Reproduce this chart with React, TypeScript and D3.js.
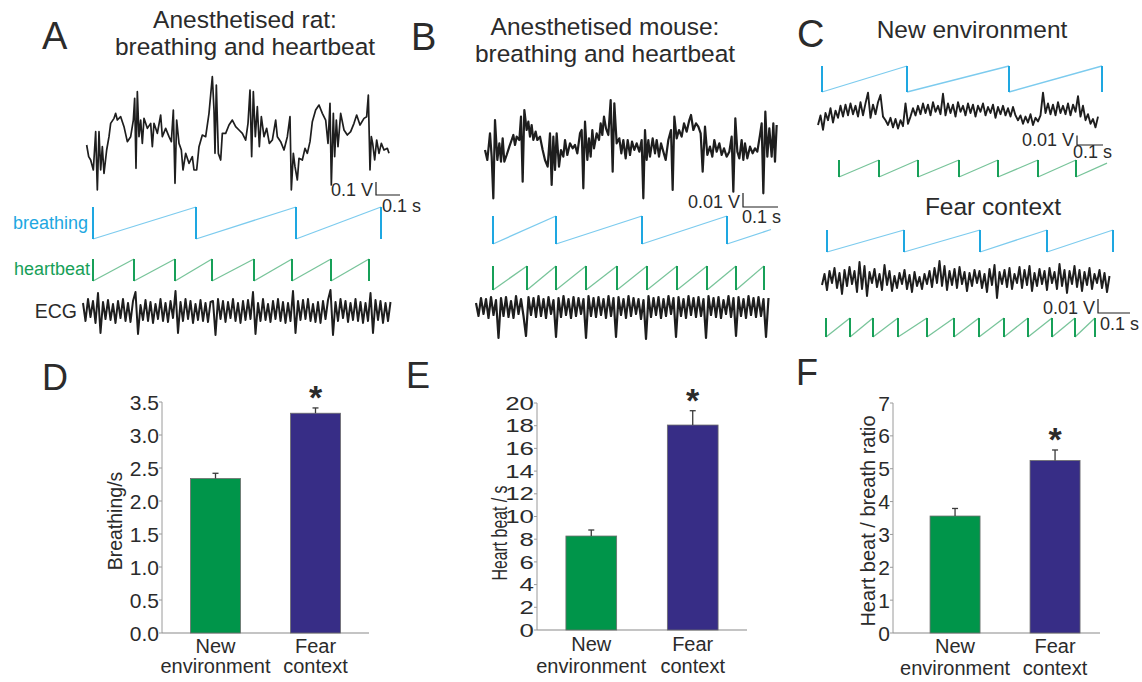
import React from "react";
import * as d3 from "d3";

const FONT = "'Liberation Sans', Arial, Helvetica, sans-serif";
const INK = "#1e1e1e";
const TEXT = "#2b2b2b";
const CYAN = "#1ea7e1";
const CYAN_LIGHT = "#7ccbee";
const GREEN = "#17a058";
const GREEN_LIGHT = "#78c49a";
const BAR_GREEN = "#00954a";
const BAR_BLUE = "#372d86";

type Pt = [number, number];

// ---------- A: anesthetised rat (time in samples, 720 samples/s) ----------
const ratTrace: Pt[] = [
  [8, -25], [14, -60], [20, -70], [28, -100], [35, 15], [40, -160], [45, 15], [50, -100], [55, -30], [60, -110],
  [68, -40], [75, 0], [80, 40], [90, 55], [95, 70], [100, 50], [110, 60], [120, 30], [130, -15], [140, 0],
  [148, 50], [152, 115], [156, -95], [160, 135], [165, 0], [170, 50], [175, -20], [180, 55], [190, 25], [200, 40],
  [205, -30], [210, 40], [220, 10], [230, 65], [235, 0], [245, 25], [255, 0], [262, -15], [268, 80], [273, -140],
  [278, 50], [285, -20], [292, -40], [297, -100], [305, -50], [315, -80], [325, -60], [330, -100], [338, -100], [345, -30],
  [355, 5], [365, 0], [375, 70], [385, 180], [390, 80], [393, -50], [397, 155], [403, -50], [410, -70], [415, 10],
  [425, 10], [435, 35], [445, 50], [455, 30], [465, 20], [475, 10], [485, -10], [492, 40], [498, 140], [503, -60],
  [508, 135], [514, 0], [520, 90], [526, -30], [532, 60], [540, 0], [548, 25], [556, -20], [565, -10], [575, 50],
  [580, 0], [590, -15], [600, -40], [610, 0], [618, 60], [622, -160], [628, -50], [633, -90], [640, -130], [645, -65],
  [655, -70], [663, -35], [670, -50], [678, -15], [685, 45], [695, 80], [705, 95], [715, 70], [725, 50], [732, -20],
  [738, 100], [742, -145], [748, 70], [752, -60], [757, 50], [762, -30], [770, 70], [780, 20], [790, 5], [800, 15],
  [810, 40], [818, 65], [828, 35], [840, 55], [848, 60], [853, 125], [858, -100], [862, 0], [866, -20], [872, -70],
  [878, -10], [885, -50], [892, -20], [900, -40], [910, -35], [915, -50],
];
const ratBreaths = [27, 336, 636, 891];
const ratBeats = [27, 150, 273, 384, 510, 624, 741, 855];
const ratEcgStart = -3;
const ratEcg = [
  8, -10, 12, -6, 10, -12, 18, -22, 9, -8,
  11, -9, 7, -12, 10, -7, 12, -10, 8, -11,
  10, 19, -23, 6, -9, 11, -10, 9, -12, 7,
  -8, 12, -10, 8, -11, 10, -7, 20, -22, 9,
  -10, 12, -8, 10, -12, 7, -9, 11, -10, 8,
  -11, 9, 10, -24, 12, -8, 10, -11, 9, -7,
  12, -10, 8, -12, 10, -9, 11, -8, 19, -23,
  8, -10, 12, -9, 7, -11, 10, -8, 12, -10,
  9, -12, 8, -10, 20, -22, 10, -9, 11, -8,
  12, -10, 7, -11, 9, -12, 10, -8, 11, 21,
  -24, 9, -10, 12, -7, 10, -11, 8, -9, 12,
  -10, 9, -12, 8, -10, 18, -22, 11, -9, 10,
  -12, 8, -10, 9,
];

// ---------- B: anesthetised mouse ----------
const mouseTrace: Pt[] = [
  [15, 0], [22, -30], [30, 50], [35, -20], [40, -145], [45, 90], [52, -30], [58, 20], [63, -35], [68, 35],
  [73, -35], [80, -15], [88, 10], [95, 30], [100, 45], [105, 15], [110, 40], [118, 30], [123, 100], [128, -95],
  [133, 120], [140, 60], [145, 85], [150, 40], [155, 75], [160, 30], [167, 55], [172, 30], [180, 40], [188, 0],
  [195, -30], [203, -50], [210, 50], [215, -105], [220, 40], [225, -60], [230, 50], [237, -50], [243, 0], [250, -20],
  [255, 30], [262, -15], [270, 20], [278, 5], [285, 15], [292, -10], [300, 50], [305, 60], [310, -115], [315, 85],
  [322, -30], [327, 35], [332, -20], [337, 60], [342, 5], [350, 50], [357, 30], [362, 80], [367, 45], [372, 100],
  [378, 65], [385, 45], [392, 150], [398, -65], [403, 140], [410, 20], [418, 35], [424, -10], [430, 30], [437, -25],
  [443, 30], [450, -15], [456, 25], [463, 0], [470, 20], [478, -5], [485, 30], [490, -145], [495, 60], [500, -30],
  [505, 30], [510, -20], [518, 35], [525, -10], [530, 30], [537, -20], [543, 20], [550, -5], [557, -30], [565, 30],
  [573, 60], [578, -120], [583, 100], [590, 35], [597, 60], [605, 40], [612, 80], [620, 55], [628, 90], [633, 105],
  [640, 60], [648, 80], [655, 70], [662, 50], [668, -65], [675, 70], [682, -15], [690, 10], [697, -20], [703, 30],
  [710, -5], [718, 20], [725, -15], [732, 5], [740, -20], [748, -5], [755, 40], [760, -125], [766, 95], [772, -5],
  [778, -25], [785, 30], [790, -30], [795, 20], [802, -25], [810, 10], [818, -10], [825, 5], [832, -5], [840, 45],
  [845, 80], [850, -130], [856, 115], [862, -20], [868, 65], [875, -20], [880, 80], [885, -35], [890, 75],
];
const mouseBreaths = [39, 228, 486, 741];
const mouseBreathEnd = 873;
const mouseBeats = [39, 141, 228, 318, 411, 501, 591, 681, 768, 852];
const mouseEcgStart = -12;
const mouseEcg = [
  5, -8, 10, -6, 9, -10, 11, -7, 8, -30,
  10, -8, 11, -9, 7, -10, 12, -6, 9, -8,
  -28, 11, -7, 10, -9, 12, -8, 9, -10, 11,
  -6, 8, -29, 10, -9, 12, -7, 9, -10, 11,
  -8, 10, -6, 9, -30, 12, -8, 10, -9, 11,
  -7, 9, -10, 12, -8, 10, -29, 11, -7, 9,
  -10, 12, -8, 10, -6, 9, -11, 8, -31, 12,
  -9, 10, -7, 11, -10, 9, -8, 12, -6, 10,
  -29, 11, -8, 9, -10, 12, -7, 10, -9, 11,
  -8, 9, -30, 12, -7, 10, -9, 11, -10, 8,
  -6, 12, -9, 10, -28, 11, -8, 9, -10, 12,
  -7, 10, -9, 11, -8, 9, -29, 10,
];

// ---------- C: freely moving, new environment vs fear context ----------
const newEnvStart = 84;
const newEnvTrace = [
  -10, -2, -14, 0, -6, 4, -8, 2, -4, 6,
  -3, 7, -2, 8, -1, 6, -3, 9, -2, 8,
  17, -4, 7, -1, 9, 15, -3, -6, -10, -4,
  -12, -5, -13, -6, -11, 8, -9, -3, 4, -2,
  6, -1, 8, 0, 7, -2, 9, 1, 6, -1,
  16, -2, 8, 0, 7, -3, 9, 1, 6, -2,
  8, 0, 7, -3, 6, 1, 8, -2, 5, 0,
  7, -4, 5, -1, 6, -2, 4, -3, 5, -2,
  -6, -2, -9, -3, -8, -1, -10, -4, -7, -2,
  17, 0, 8, -1, 7, -2, 9, 0, 6, -1,
  8, -2, 7, 1, 14, -3, 6, -6, -1, -9,
  -5, -12, -3,
];
const newEnvBreaths = [96, 351, 657, 936];
const newEnvBeats = [147, 267, 384, 507, 624, 744, 858];
const newEnvBeatEnd = 951;

const fearStart = 96;
const fearTrace = [
  -5, 6, -10, 9, -3, 12, -8, 7, -14, 10,
  -6, 13, -4, 9, -12, 18, -9, 14, -16, 8,
  -3, 11, -7, 6, -10, 15, -5, 9, -11, 4,
  -8, 7, -4, 10, -9, 5, -12, 8, -6, 3,
  -9, 6, -4, 9, -7, 12, -3, 19, -6, 14,
  -10, 9, -5, 11, -8, 13, -4, 8, -11, 7,
  -6, 10, -3, 9, -8, 6, -12, 11, -5, 15,
  -18, 8, -4, 10, -7, 12, -9, 6, -3, 13,
  -8, 10, -5, 14, -11, 7, -6, 11, -4, 9,
  -10, 12, -3, 8, -9, 16, -6, 10, -13, 9,
  -4, 14, -7, 10, -11, 8, -5, 12, -9, 6,
  -3, 10, -8, 7, -12, 4,
];
const fearBreaths = [111, 342, 570, 771, 969];
const fearBeats = [108, 180, 249, 324, 411, 492, 567, 642, 714, 786, 855, 915];

const SAMPLE_STEP = 7.5;

// ---------- D-F: bar charts ----------
const groups = ["New environment", "Fear context"];
const breathMean = [2.34, 3.33];
const breathSem = [0.08, 0.08];
const heartMean = [8.28, 18.06];
const heartSem = [0.53, 1.26];
const ratioMean = [3.56, 5.25];
const ratioSem = [0.23, 0.32];

const uniform = (start: number, values: number[]): Pt[] =>
  values.map((v, i) => [start + i * SAMPLE_STEP, v]);

function Trace({ pts, x, y, w = 1.4 }: any) {
  const line = d3.line<Pt>().x((d) => x(d[0])).y((d) => y(d[1]));
  return <path d={line(pts) || ""} fill="none" stroke={INK} strokeWidth={w} strokeLinejoin="round" />;
}

function Sawtooth({ resets, end, x, lo, hi, color, light }: any) {
  const phase = d3.scaleLinear().domain([0, 1]).range([lo, hi]);
  const last = resets[resets.length - 1];
  const ramps: Pt[][] = d3.pairs(resets).map(([a, b]: any) => [[a, 0], [b, 1]] as Pt[]);
  if (end > last) {
    const prev = resets[resets.length - 2];
    ramps.push([[last, 0], [end, (end - last) / (last - prev)]]);
  }
  const line = d3.line<Pt>().x((d) => x(d[0])).y((d) => phase(d[1]));
  return (
    <g fill="none">
      {ramps.map((r, i) => (
        <path key={"r" + i} d={line(r) || ""} stroke={light} strokeWidth={1.3} />
      ))}
      {resets.map((t: number, i: number) => (
        <line key={"v" + i} x1={x(t)} x2={x(t)} y1={phase(1)} y2={phase(0)} stroke={color} strokeWidth={2} />
      ))}
    </g>
  );
}

function ScaleBar({ cx, cy, x, y, vUnits, sUnits, vText, sText, sDx, sDy }: any) {
  const h = y(0) - y(vUnits);
  const w = x(sUnits) - x(0);
  return (
    <g fontFamily={FONT} fontSize={18} fill={TEXT}>
      <path d={`M${cx},${cy - h}V${cy}H${cx + w}`} fill="none" stroke={INK} strokeWidth={1.2} />
      <text x={cx - 3} y={cy + 1} textAnchor="end">{vText}</text>
      <text x={cx + sDx} y={cy + sDy}>{sText}</text>
    </g>
  );
}

function BarPanel(p: any) {
  const x = d3.scaleBand().domain(groups).range([p.x0, p.x1]).paddingInner(0.5).paddingOuter(0.285).align(p.align ?? 0.5);
  const y = d3.scaleLinear().domain([0, p.max]).range([p.yBase, p.yTop]);
  const ticks = d3.range(0, p.max + p.step / 2, p.step);
  const fmt = d3.format(p.fmt);
  const stretch = p.tickStretch ?? 1;
  return (
    <g fontFamily={FONT} fill={TEXT}>
      <text x={p.letterX} y={p.letterY} fontSize={36}>{p.letter}</text>
      <line x1={p.x0} x2={p.x0} y1={y(0)} y2={y(p.max)} stroke="#9a9a9a" strokeWidth={1} />
      <line x1={p.x0} x2={p.x1} y1={y(0)} y2={y(0)} stroke="#8a8a8a" strokeWidth={1.2} />
      {ticks.map((t: number) => (
        <g key={t}>
          <line x1={p.x0 - 3} x2={p.x0} y1={y(t)} y2={y(t)} stroke="#9a9a9a" />
          <text
            transform={`translate(${p.x0 - 3},${y(t)}) scale(${stretch},1)`}
            dy="0.36em"
            textAnchor="end"
            fontSize={p.tickSize}
          >
            {fmt(t)}
          </text>
        </g>
      ))}
      {groups.map((g, i) => {
        const bx = x(g) as number;
        const bw = x.bandwidth();
        const cx = bx + bw / 2;
        const top = y(p.means[i] + p.sems[i]);
        const [l1, ...rest] = g.split(" ");
        return (
          <g key={g}>
            <rect x={bx} y={y(p.means[i])} width={bw} height={y(0) - y(p.means[i])}
              fill={i === 0 ? BAR_GREEN : BAR_BLUE} stroke="#6d6d6d" strokeWidth={0.8} />
            <line x1={cx} x2={cx} y1={y(p.means[i])} y2={top} stroke="#3a3a3a" strokeWidth={1.3} />
            <line x1={cx - 3} x2={cx + 3} y1={top} y2={top} stroke="#3a3a3a" strokeWidth={1.3} />
            <text x={cx} y={p.catY1} textAnchor="middle" fontSize={20}>{l1}</text>
            <text x={cx} y={p.catY2} textAnchor="middle" fontSize={20}>{rest.join(" ")}</text>
          </g>
        );
      })}
      <text x={x(groups[1])! + x.bandwidth() / 2} y={y(p.means[1] + p.sems[1]) + 1} textAnchor="middle"
        fontSize={34} fontWeight="bold">*</text>
      <text transform={`translate(${p.labelX},${p.labelY}) rotate(-90) scale(${p.labelSquash ?? 1},1)`}
        textAnchor="middle" fontSize={p.labelSize}>{p.label}</text>
    </g>
  );
}

export default function App() {
  // panel A scales
  const ax = d3.scaleLinear().domain([0, 915]).range([84, 389]);
  const ay = d3.scaleLinear().domain([-175, 180]).range([195, 76.7]);
  const aEcgY = d3.scaleLinear().domain([-30, 30]).range([341, 281]);
  // panel B scales
  const bx = d3.scaleLinear().domain([0, 900]).range([480, 780]);
  const by = d3.scaleLinear().domain([-150, 150]).range([200, 100]);
  const bEcgY = d3.scaleLinear().domain([-31, 31]).range([339, 277]);
  // panel C scales
  const cx = d3.scaleLinear().domain([0, 960]).range([790, 1110]);
  const cNewY = d3.scaleLinear().domain([-15, 15]).range([131, 95]);
  const cFearY = d3.scaleLinear().domain([-25, 25]).range([305, 255]);

  return (
    <svg width={1142} height={682} style={{ position: "absolute", left: 0, top: 0, background: "#fff" }}>
      <rect width={1142} height={682} fill="#fff" />
      <g fontFamily={FONT} fill={TEXT}>
        {/* A */}
        <text x={42} y={49} fontSize={38}>A</text>
        <text x={245} y={28} fontSize={24.5} textAnchor="middle">Anesthetised rat:</text>
        <text x={245} y={55} fontSize={24.5} textAnchor="middle">breathing and heartbeat</text>
        <text x={88} y={229} fontSize={18} textAnchor="end" fill={CYAN}>breathing</text>
        <text x={90} y={275} fontSize={18} textAnchor="end" fill={GREEN}>heartbeat</text>
        <text x={77} y={318} fontSize={19.5} textAnchor="end">ECG</text>
        {/* B */}
        <text x={411} y={50} fontSize={38}>B</text>
        <text x={605} y={35} fontSize={24.5} textAnchor="middle">Anesthetised mouse:</text>
        <text x={605} y={62} fontSize={24.5} textAnchor="middle">breathing and heartbeat</text>
        {/* C */}
        <text x={797} y={47} fontSize={38}>C</text>
        <text x={972} y={38} fontSize={24.5} textAnchor="middle">New environment</text>
        <text x={993} y={215} fontSize={24.5} textAnchor="middle">Fear context</text>
      </g>

      {/* A traces */}
      <Trace pts={ratTrace} x={ax} y={ay} w={1.7} />
      <ScaleBar cx={376} cy={195} x={ax} y={ay} vUnits={39} sUnits={72} vText="0.1 V" sText="0.1 s" sDx={6} sDy={17} />
      <Sawtooth resets={ratBreaths} end={891} x={ax} lo={239} hi={207} color={CYAN} light={CYAN_LIGHT} />
      <Sawtooth resets={ratBeats} end={855} x={ax} lo={281} hi={259} color={GREEN} light={GREEN_LIGHT} />
      <Trace pts={uniform(ratEcgStart, ratEcg)} x={ax} y={aEcgY} w={2} />

      {/* B traces */}
      <Trace pts={mouseTrace} x={bx} y={by} w={2.2} />
      <ScaleBar cx={743} cy={207} x={bx} y={by} vUnits={42} sUnits={105} vText="0.01 V" sText="0.1 s" sDx={-1} sDy={16} />
      <Sawtooth resets={mouseBreaths} end={mouseBreathEnd} x={bx} lo={244} hi={216} color={CYAN} light={CYAN_LIGHT} />
      <Sawtooth resets={mouseBeats} end={852} x={bx} lo={290} hi={266} color={GREEN} light={GREEN_LIGHT} />
      <Trace pts={uniform(mouseEcgStart, mouseEcg)} x={bx} y={bEcgY} w={2.2} />

      {/* C traces */}
      <Sawtooth resets={newEnvBreaths} end={936} x={cx} lo={92} hi={66} color={CYAN} light={CYAN_LIGHT} />
      <Trace pts={uniform(newEnvStart, newEnvTrace)} x={cx} y={cNewY} w={1.9} />
      <ScaleBar cx={1077} cy={145} x={cx} y={cNewY} vUnits={8} sUnits={78} vText="0.01 V" sText="0.1 s" sDx={-4} sDy={13} />
      <Sawtooth resets={newEnvBeats} end={newEnvBeatEnd} x={cx} lo={177} hi={160} color={GREEN} light={GREEN_LIGHT} />

      <Sawtooth resets={fearBreaths} end={969} x={cx} lo={252} hi={230} color={CYAN} light={CYAN_LIGHT} />
      <Trace pts={uniform(fearStart, fearTrace)} x={cx} y={cFearY} w={2} />
      <Sawtooth resets={fearBeats} end={915} x={cx} lo={337} hi={318} color={GREEN} light={GREEN_LIGHT} />
      <ScaleBar cx={1098} cy={313} x={cx} y={cFearY} vUnits={14} sUnits={96} vText="0.01 V" sText="0.1 s" sDx={2} sDy={17} />

      {/* D */}
      <BarPanel letter="D" letterX={42} letterY={390} x0={162} x1={369} yBase={633} yTop={402} max={3.5} step={0.5}
        fmt=".1f" tickSize={21} means={breathMean} sems={breathSem} label="Breathing/s" labelX={122} labelY={521}
        labelSize={19.5} catY1={653} catY2={673} />
      {/* E */}
      <BarPanel letter="E" letterX={406} letterY={388} x0={537} x1={747} yBase={630} yTop={403} max={20} step={2}
        fmt="d" tickSize={18.5} tickStretch={1.4} means={heartMean} sems={heartSem} label="Heart beat / s"
        labelX={507} labelY={533} labelSize={22} labelSquash={0.72} catY1={651} catY2={673} />
      {/* F */}
      <BarPanel letter="F" letterX={796} letterY={385} x0={893} x1={1100} yBase={633} yTop={403} max={7} step={1}
        fmt="d" tickSize={21} align={0.65} means={ratioMean} sems={ratioSem} label="Heart beat / breath ratio"
        labelX={875} labelY={521} labelSize={20} catY1={653} catY2={675} />
    </svg>
  );
}
